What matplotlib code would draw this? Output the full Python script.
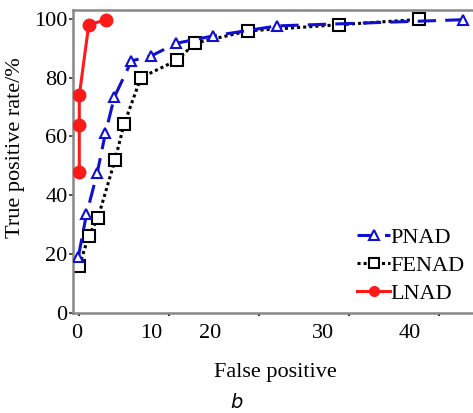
import numpy as np
import matplotlib
matplotlib.use('Agg')
import matplotlib.pyplot as plt

# data (x in tick units)
pnad_x = [-0.1, 0.8, 2.0, 2.9, 3.9, 5.8, 8.0, 10.8, 14.9, 22.0, 42.7]
pnad_y = [19.2, 33.6, 47.7, 61.1, 73.4, 85.7, 87.4, 91.7, 94.2, 97.6, 99.7]
fenad_x = [0.0, 1.05, 2.06, 3.97, 4.98, 6.85, 10.9, 12.85, 18.8, 28.9, 37.8]
fenad_y = [16.1, 26.2, 32.2, 52.0, 64.2, 80.0, 86.0, 91.7, 95.9, 98.0, 99.8]
lnad_x = [0.0, 0.0, 0.0, 1.05, 3.0]
lnad_y = [48.0, 64.0, 74.0, 98.0, 99.7]

x_tick_marks = [0, 10, 20, 30, 40]
x_label_pos = [-0.25, 8.0, 14.6, 27.1, 36.7]
x_labels = ['0', '10', '20', '30', '40']
y_ticks = [0, 20, 40, 60, 80, 100]

plt.rcParams['font.family'] = ['Liberation Serif', 'DejaVu Serif']

fig = plt.figure(figsize=(4.73, 4.13), dpi=100)
ax = fig.add_axes([73 / 473, 1 - 313 / 413, 1 - 73 / 473 + 0.01, (313 - 10) / 413])

ax.plot(pnad_x, pnad_y, color='#1010d0', lw=2.2, dashes=(6, 3),
        marker='^', ms=7.5, mfc='white', mec='#1010d0', mew=1.5, label='PNAD', zorder=3)
ax.plot(fenad_x, fenad_y, color='black', lw=2.2, ls=(0, (1, 1)),
        marker='s', ms=8.5, mfc='white', mec='black', mew=1.5, label='FENAD', zorder=2)
ax.plot(lnad_x, lnad_y, color='#ff1a1a', lw=2.2, marker='o', ms=9,
        mfc='#ff1a1a', mec='#ff1a1a', label='LNAD', zorder=4)

ax.set_xlim(-0.7, 44.3)
ax.set_ylim(0, 103)

ax.set_xticks(x_tick_marks)
ax.set_xticklabels([])
ax.set_xticks(x_label_pos, minor=True)
ax.set_xticklabels(x_labels, minor=True, fontsize=16)
ax.tick_params(axis='x', which='major', direction='out', length=2, width=1.5, color='#333333')
ax.tick_params(axis='x', which='minor', length=0, pad=8)
ax.set_yticks(y_ticks)
ax.set_yticklabels([str(v) for v in y_ticks], fontsize=16)
ax.tick_params(axis='y', direction='out', length=3, width=1.2, color='#333333', pad=1)

for s in ['left', 'bottom', 'top']:
    ax.spines[s].set_color('#888888')
    ax.spines[s].set_linewidth(1.8)
ax.spines['right'].set_visible(False)

ax.set_xlabel('False positive', fontsize=16, labelpad=14)
ax.set_ylabel('True positive rate/%', fontsize=16)
ax.yaxis.set_label_coords(25 / 473, 1 - 148 / 413, transform=fig.transFigure)

leg = ax.legend(loc='lower right', bbox_to_anchor=(1.0, -0.015), frameon=False, fontsize=16,
                handlelength=1.5, handletextpad=0.0, labelspacing=0.35, borderaxespad=0.2)
for h in leg.legend_handles:
    h.set_markersize(7)

fig.text(236 / 473, 1 - 403 / 413, 'b', fontsize=14, style='italic',
         family='DejaVu Sans', ha='center', va='center')

fig.savefig('out.png', dpi=100)
